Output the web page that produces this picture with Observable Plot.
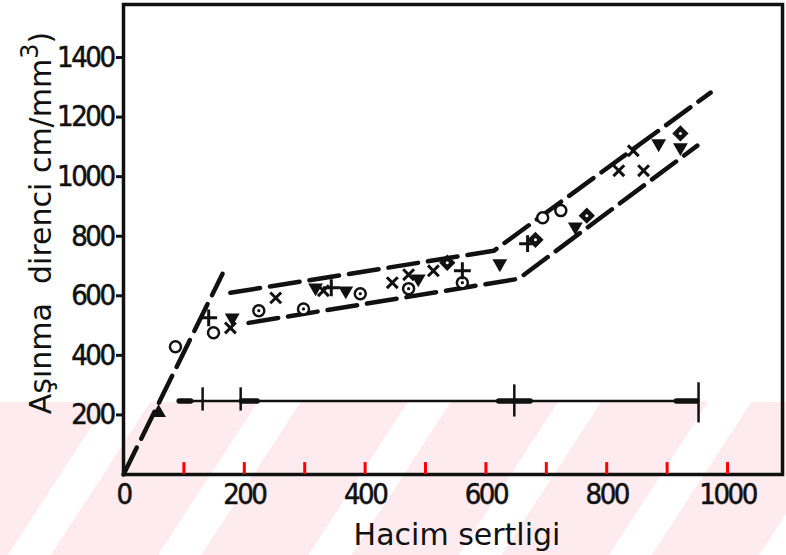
<!DOCTYPE html>
<html>
<head>
<meta charset="utf-8">
<script src="https://cdn.jsdelivr.net/npm/d3@7"></script>
<script src="https://cdn.jsdelivr.net/npm/@observablehq/plot@0.6"></script>
<style>
  html, body { margin: 0; padding: 0; background: #fff; }
  #wrap { position: relative; width: 786px; height: 555px; overflow: hidden; }
  #bg { position: absolute; left: 0; top: 402px; width: 786px; height: 153px;
        background: repeating-linear-gradient(123deg, #fdebef 0px, #fdebef 90px, #ffffff 90px, #ffffff 126px); }
  #chart { position: absolute; left: 0; top: 0; }
  #chart svg g[aria-label="x-axis tick label"] text,
  #chart svg g[aria-label="y-axis tick label"] text { letter-spacing: -2.5px; stroke: #111; stroke-width: 0.5px; }
</style>
</head>
<body>
<div id="wrap"><div id="bg"></div><div id="chart"></div></div>
<script>
// ---- data ----
const xTickLabels = [0, 200, 400, 600, 800, 1000];
const xMinorTicks = [100, 200, 300, 400, 500, 600, 700, 800, 900, 1000];
const yTickLabels = [200, 400, 600, 800, 1000, 1200, 1400];

const steepLine = [[0, 0], [164, 674]];
const upperBand = [[177, 610], [613, 751], [972, 1282]];
const lowerBand = [[207, 509], [654, 657], [950, 1104]];

const openCircles = [[86, 429], [149, 476], [694, 862], [724, 886]];
const dotCircles = [[224, 550], [298, 556], [392, 607], [472, 624], [561, 644]];
const plusPts = [[141, 526], [344, 627], [561, 684], [669, 775]];
const timesPts = [[177, 492], [252, 593], [331, 617], [445, 644], [472, 671], [513, 684], [820, 1020], [861, 1020], [844, 1087]];
const triDownPts = [[180, 526], [318, 627], [368, 617], [488, 657], [623, 708], [748, 832], [886, 1111], [922, 1098]];
const triUpPts = [[58, 207]];
const diamondPts = [[536, 711], [682, 788], [767, 869], [922, 1145]];

// hardness range bar
const rangeY = 247;
const rangeSpan = [[93, 952]];
const rangeMarks = [[131, 213, 291], [194, 213, 291], [647, 193, 301], [952, 173, 308]];
const rangeArrows = [[93, 112], [196, 222], [622, 645], [649, 674], [916, 950]];

const xTitle = "Hacim sertligi";
const yTitleMain = "Aşınma  direnci cm/mm";
const yTitleSup = "3";
const yTitleEnd = ")";

const ink = "#111";
const tickFont = "'DejaVu Sans Condensed', 'DejaVu Sans', sans-serif";
const fmt = d3.format("d");
const minorTickLen = 40; // in y units (~12 px)

const plot = Plot.plot({
  width: 786,
  height: 555,
  marginLeft: 123,
  marginRight: 4,
  marginTop: 4,
  marginBottom: 81,
  x: {domain: [0, 1091]},
  y: {domain: [0, 1578]},
  style: {background: "transparent", color: ink, fontFamily: tickFont, fontSize: "29px"},
  marks: [
    Plot.axisX(xTickLabels, {tickSize: 0, tickPadding: 9, tickFormat: fmt, label: null, fontSize: 29, fill: ink}),
    Plot.axisY(yTickLabels, {tickSize: 7, tickPadding: 3, tickFormat: fmt, label: null, fontSize: 29, strokeWidth: 3, stroke: ink, fill: ink}),
    Plot.frame({stroke: ink, strokeWidth: 3.5}),
    // short inward minor ticks on the x axis
    Plot.ruleX(xMinorTicks.map(v => [v, 0, minorTickLen]), {x: d => d[0], y1: d => d[1], y2: d => d[2], stroke: "red", strokeWidth: 3}),
    // dashed guide lines
    Plot.line(steepLine, {x: d => d[0], y: d => d[1], stroke: ink, strokeWidth: 4.5, strokeDasharray: "30,10"}),
    Plot.line(upperBand, {x: d => d[0], y: d => d[1], stroke: ink, strokeWidth: 4.5, strokeDasharray: "30,10"}),
    Plot.line(lowerBand, {x: d => d[0], y: d => d[1], stroke: ink, strokeWidth: 4.5, strokeDasharray: "30,10"}),
    // range bar
    Plot.ruleY(rangeSpan, {x1: d => d[0], x2: d => d[1], y: () => rangeY, stroke: ink, strokeWidth: 2.5}),
    Plot.ruleY(rangeArrows, {x1: d => d[0], x2: d => d[1], y: () => rangeY, stroke: ink, strokeWidth: 5.5, strokeLinecap: "round"}),
    Plot.ruleX(rangeMarks, {x: d => d[0], y1: d => d[1], y2: d => d[2], stroke: ink, strokeWidth: 2.5}),
    // symbols
    Plot.dot(openCircles, {x: d => d[0], y: d => d[1], r: 5.5, stroke: ink, strokeWidth: 2.5, fill: "white"}),
    Plot.dot(dotCircles, {x: d => d[0], y: d => d[1], r: 5.5, stroke: ink, strokeWidth: 2.5, fill: "white"}),
    Plot.dot(dotCircles, {x: d => d[0], y: d => d[1], r: 1.6, fill: ink}),
    Plot.dot(plusPts, {x: d => d[0], y: d => d[1], symbol: "plus", r: 5.5, stroke: ink, strokeWidth: 3}),
    Plot.dot(timesPts, {x: d => d[0], y: d => d[1], symbol: "times", r: 5, stroke: ink, strokeWidth: 3}),
    Plot.dot(triDownPts, {x: d => d[0], y: d => d[1], symbol: "triangle", rotate: 180, r: 5.5, fill: ink}),
    Plot.dot(triUpPts, {x: d => d[0], y: d => d[1], symbol: "triangle", r: 5.5, fill: ink}),
    Plot.dot(diamondPts, {x: d => d[0], y: d => d[1], symbol: "square", rotate: 45, r: 6.5, fill: ink}),
    Plot.dot(diamondPts, {x: d => d[0], y: d => d[1], r: 1.5, fill: "white"})
  ]
});

const svg = d3.select(plot);
svg.append("text")
  .attr("x", 457).attr("y", 545)
  .attr("text-anchor", "middle")
  .attr("font-family", "'DejaVu Sans', sans-serif")
  .attr("font-size", 30)
  .attr("fill", ink)
  .text(xTitle);

const yt = svg.append("text")
  .attr("transform", "translate(51,223) rotate(-90)")
  .attr("text-anchor", "middle")
  .attr("font-family", "'DejaVu Sans', sans-serif")
  .attr("font-size", 30)
  .attr("fill", ink);
yt.append("tspan").text(yTitleMain);
yt.append("tspan").attr("dy", -13).attr("font-size", 24).text(yTitleSup);
yt.append("tspan").attr("dy", 13).text(yTitleEnd);

document.getElementById("chart").appendChild(plot);
</script>
</body>
</html>
